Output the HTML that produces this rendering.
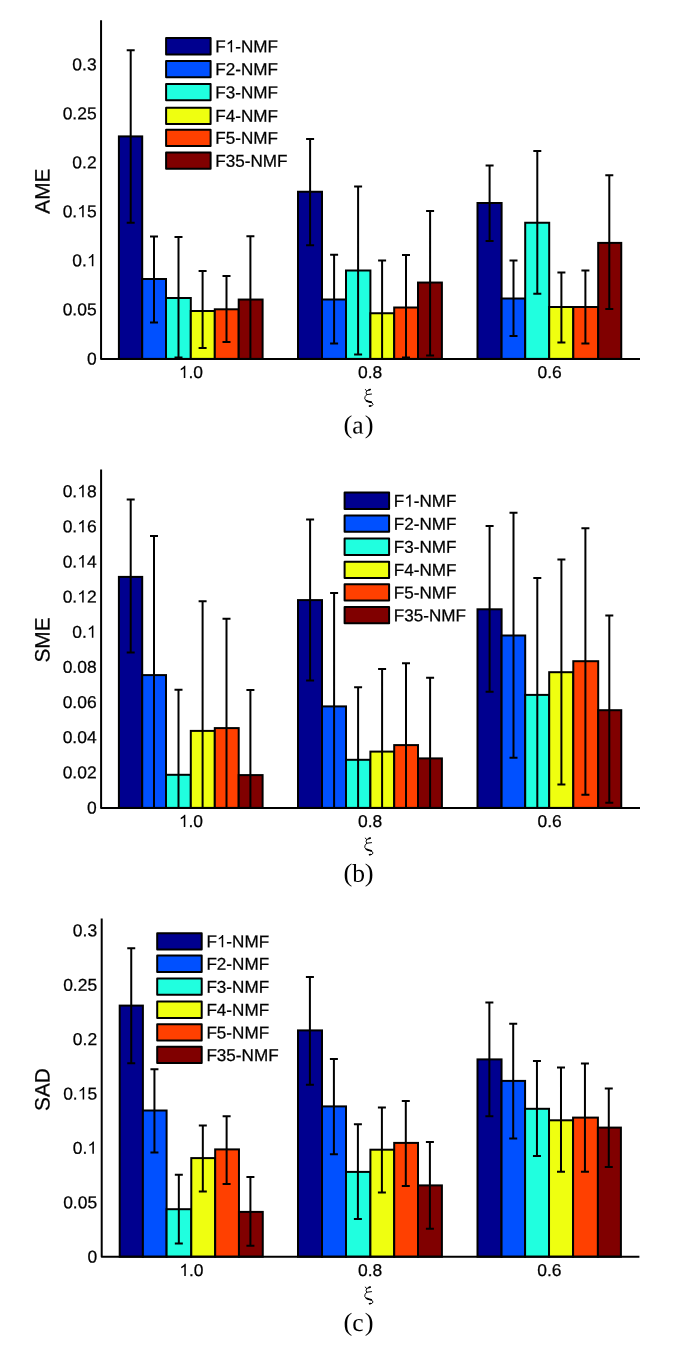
<!DOCTYPE html>
<html><head><meta charset="utf-8"><title>charts</title>
<style>html,body{margin:0;padding:0;background:#fff}body{width:685px;height:1350px;overflow:hidden}svg{display:block;will-change:transform;filter:opacity(1)}.t{font-family:"Liberation Sans",sans-serif;fill:#000;stroke:#000;stroke-width:0.25px}.s{font-family:"Liberation Serif",serif;fill:#000}</style>
</head><body>
<svg width="685" height="1350" viewBox="0 0 685 1350">
<rect x="0" y="0" width="685" height="1350" fill="#fff"/>
<g>
<rect x="118.9" y="136.4" width="23.3" height="222.5" fill="#00008F" stroke="#000" stroke-width="2"/>
<rect x="142.2" y="279" width="23.8" height="79.9" fill="#0050FF" stroke="#000" stroke-width="2"/>
<rect x="166" y="298" width="24.8" height="60.9" fill="#20FFDF" stroke="#000" stroke-width="2"/>
<rect x="190.8" y="311" width="24" height="47.9" fill="#EFFF10" stroke="#000" stroke-width="2"/>
<rect x="214.8" y="309.3" width="23.9" height="49.6" fill="#FF4000" stroke="#000" stroke-width="2"/>
<rect x="238.7" y="299.55" width="23.9" height="59.35" fill="#800000" stroke="#000" stroke-width="2"/>
<rect x="298" y="191.75" width="24" height="167.15" fill="#00008F" stroke="#000" stroke-width="2"/>
<rect x="322" y="299.5" width="24" height="59.4" fill="#0050FF" stroke="#000" stroke-width="2"/>
<rect x="346" y="270.5" width="24.4" height="88.4" fill="#20FFDF" stroke="#000" stroke-width="2"/>
<rect x="370.4" y="313.25" width="23.8" height="45.65" fill="#EFFF10" stroke="#000" stroke-width="2"/>
<rect x="394.2" y="307.5" width="23.8" height="51.4" fill="#FF4000" stroke="#000" stroke-width="2"/>
<rect x="418" y="282.55" width="23.9" height="76.35" fill="#800000" stroke="#000" stroke-width="2"/>
<rect x="477.5" y="203" width="24.1" height="155.9" fill="#00008F" stroke="#000" stroke-width="2"/>
<rect x="501.6" y="298.5" width="23.6" height="60.4" fill="#0050FF" stroke="#000" stroke-width="2"/>
<rect x="525.2" y="222.75" width="24" height="136.15" fill="#20FFDF" stroke="#000" stroke-width="2"/>
<rect x="549.2" y="307" width="24.1" height="51.9" fill="#EFFF10" stroke="#000" stroke-width="2"/>
<rect x="573.3" y="307" width="24.9" height="51.9" fill="#FF4000" stroke="#000" stroke-width="2"/>
<rect x="598.2" y="242.9" width="23.05" height="116" fill="#800000" stroke="#000" stroke-width="2"/>
<path d="M130.7 50.3V222.75M126.7 50.3H134.7M126.7 222.75H134.7M154 236.5V322.4M150 236.5H158M150 322.4H158M178.5 237V357.6M174.5 237H182.5M174.5 357.6H182.5M202.6 271V348M198.6 271H206.6M198.6 348H206.6M226.5 276V342M222.5 276H230.5M222.5 342H230.5M250.4 236.25V358.9M246.4 236.25H254.4M310.1 139V245.25M306.1 139H314.1M306.1 245.25H314.1M334.1 254.75V343.5M330.1 254.75H338.1M330.1 343.5H338.1M358.1 186.5V354.5M354.1 186.5H362.1M354.1 354.5H362.1M382.1 260.6V358.9M378.1 260.6H386.1M406 254.9V357.5M402 254.9H410M402 357.5H410M430.1 210.9V355.5M426.1 210.9H434.1M426.1 355.5H434.1M489.6 165.5V241M485.6 165.5H493.6M485.6 241H493.6M513.5 260.5V336M509.5 260.5H517.5M509.5 336H517.5M537.3 151V293.75M533.3 151H541.3M533.3 293.75H541.3M561.4 272.6V342.5M557.4 272.6H565.4M557.4 342.5H565.4M585.4 270.4V343.5M581.4 270.4H589.4M581.4 343.5H589.4M609.3 175.25V309M605.3 175.25H613.3M605.3 309H613.3" fill="none" stroke="#000" stroke-width="2"/>
<path d="M101.06 20.2V358.9H640" fill="none" stroke="#000" stroke-width="2" stroke-linejoin="round"/>
<g transform="translate(96.6 364.4) rotate(0.03) scale(1.02 1)"><text class="t" font-size="17.1" x="-9.51" y="0">0</text></g>
<g transform="translate(96.6 315.38) rotate(0.03) scale(1.02 1)"><text class="t" font-size="17.1" x="-33.28 -23.77 -19.02 -9.51" y="0">0.05</text></g>
<g transform="translate(96.6 266.36) rotate(0.03) scale(1.02 1)"><path class="t" d="M763 0H583V1147Q518 1085 412.5 1023Q307 961 223 930V1104Q374 1175 487 1276Q600 1377 647 1472H763Z" transform="translate(-9.51 0) scale(0.00835 -0.00835)" stroke-width="29.94"/><text class="t" font-size="17.1" x="-23.77 -14.26" y="0">0.</text></g>
<g transform="translate(96.6 217.34) rotate(0.03) scale(1.02 1)"><path class="t" d="M763 0H583V1147Q518 1085 412.5 1023Q307 961 223 930V1104Q374 1175 487 1276Q600 1377 647 1472H763Z" transform="translate(-19.02 0) scale(0.00835 -0.00835)" stroke-width="29.94"/><text class="t" font-size="17.1" x="-33.28 -23.77 -9.51" y="0">0.5</text></g>
<g transform="translate(96.6 168.32) rotate(0.03) scale(1.02 1)"><text class="t" font-size="17.1" x="-23.77 -14.26 -9.51" y="0">0.2</text></g>
<g transform="translate(96.6 119.3) rotate(0.03) scale(1.02 1)"><text class="t" font-size="17.1" x="-33.28 -23.77 -19.02 -9.51" y="0">0.25</text></g>
<g transform="translate(96.6 70.28) rotate(0.03) scale(1.02 1)"><text class="t" font-size="17.1" x="-23.77 -14.26 -9.51" y="0">0.3</text></g>
<g transform="translate(190.95 378) rotate(0.03) scale(1.02 1)"><path class="t" d="M763 0H583V1147Q518 1085 412.5 1023Q307 961 223 930V1104Q374 1175 487 1276Q600 1377 647 1472H763Z" transform="translate(-11.89 0) scale(0.00835 -0.00835)" stroke-width="29.94"/><text class="t" font-size="17.1" x="-2.38 2.38" y="0">.0</text></g>
<g transform="translate(370.15 378) rotate(0.03) scale(1.02 1)"><text class="t" font-size="17.1" x="-11.89 -2.38 2.38" y="0">0.8</text></g>
<g transform="translate(549.58 378) rotate(0.03) scale(1.02 1)"><text class="t" font-size="17.1" x="-11.89 -2.38 2.38" y="0">0.6</text></g>
<text class="t" transform="translate(49.5 191.1) rotate(-89.97)" font-size="20.8" text-anchor="middle">AME</text>
<g transform="translate(355 382) scale(0.0438)" fill="none" stroke="#000" stroke-linecap="round" stroke-linejoin="round"><path stroke-width="22" d="M238,172Q250,200 266,205Q300,188 345,172M266,205Q236,250 268,288L378,275M268,289Q214,332 222,382Q236,438 330,454Q410,468 412,512Q404,554 336,554"/><path stroke-width="38" d="M318,182L346,172M262,427Q300,450 372,460M332,550L350,546"/></g>
<text class="s" transform="translate(343.6 432.9) rotate(0.03) scale(1 0.97)" font-size="26.5" text-anchor="start">(</text>
<text class="s" transform="translate(352.3 433.4) rotate(0.03)" font-size="25.5" text-anchor="start">a</text>
<text class="s" transform="translate(373.5 432.9) rotate(0.03) scale(1 0.97)" font-size="26.5" text-anchor="end">)</text>
<rect x="166.1" y="38.1" width="44.5" height="16.3" fill="#00008F" stroke="#000" stroke-width="2" stroke-linejoin="round"/>
<g transform="translate(215.3 52.25) rotate(0.03) scale(1 1)"><path class="t" d="M763 0H583V1147Q518 1085 412.5 1023Q307 961 223 930V1104Q374 1175 487 1276Q600 1377 647 1472H763Z" transform="translate(10.45 0) scale(0.00835 -0.00835)" stroke-width="29.94"/><text class="t" font-size="17.1" x="0 19.96 25.65 38 52.24" y="0">F-NMF</text></g>
<rect x="166.1" y="60.9" width="44.5" height="16.3" fill="#0050FF" stroke="#000" stroke-width="2" stroke-linejoin="round"/>
<g transform="translate(215.3 75.05) rotate(0.03) scale(1 1)"><text class="t" font-size="17.1" x="0 10.45 19.96 25.65 38 52.24" y="0">F2-NMF</text></g>
<rect x="166.1" y="84" width="44.5" height="16.3" fill="#20FFDF" stroke="#000" stroke-width="2" stroke-linejoin="round"/>
<g transform="translate(215.3 98.15) rotate(0.03) scale(1 1)"><text class="t" font-size="17.1" x="0 10.45 19.96 25.65 38 52.24" y="0">F3-NMF</text></g>
<rect x="166.1" y="107.7" width="44.5" height="16.3" fill="#EFFF10" stroke="#000" stroke-width="2" stroke-linejoin="round"/>
<g transform="translate(215.3 121.85) rotate(0.03) scale(1 1)"><text class="t" font-size="17.1" x="0 10.45 19.96 25.65 38 52.24" y="0">F4-NMF</text></g>
<rect x="166.1" y="129.7" width="44.5" height="16.3" fill="#FF4000" stroke="#000" stroke-width="2" stroke-linejoin="round"/>
<g transform="translate(215.3 143.85) rotate(0.03) scale(1 1)"><text class="t" font-size="17.1" x="0 10.45 19.96 25.65 38 52.24" y="0">F5-NMF</text></g>
<rect x="166.1" y="152.5" width="44.5" height="16.3" fill="#800000" stroke="#000" stroke-width="2" stroke-linejoin="round"/>
<g transform="translate(215.3 166.65) rotate(0.03) scale(1 1)"><text class="t" font-size="17.1" x="0 10.45 19.96 29.47 35.16 47.51 61.75" y="0">F35-NMF</text></g>
</g>
<g>
<rect x="118.9" y="576.9" width="23.3" height="231" fill="#00008F" stroke="#000" stroke-width="2"/>
<rect x="142.2" y="675.1" width="23.8" height="132.8" fill="#0050FF" stroke="#000" stroke-width="2"/>
<rect x="166" y="774.8" width="24.8" height="33.1" fill="#20FFDF" stroke="#000" stroke-width="2"/>
<rect x="190.8" y="730.9" width="24" height="77" fill="#EFFF10" stroke="#000" stroke-width="2"/>
<rect x="214.8" y="728.1" width="23.9" height="79.8" fill="#FF4000" stroke="#000" stroke-width="2"/>
<rect x="238.7" y="775.1" width="23.9" height="32.8" fill="#800000" stroke="#000" stroke-width="2"/>
<rect x="298" y="600.1" width="24" height="207.8" fill="#00008F" stroke="#000" stroke-width="2"/>
<rect x="322" y="706.4" width="24" height="101.5" fill="#0050FF" stroke="#000" stroke-width="2"/>
<rect x="346" y="759.8" width="24.4" height="48.1" fill="#20FFDF" stroke="#000" stroke-width="2"/>
<rect x="370.4" y="751.6" width="23.8" height="56.3" fill="#EFFF10" stroke="#000" stroke-width="2"/>
<rect x="394.2" y="745.1" width="23.8" height="62.8" fill="#FF4000" stroke="#000" stroke-width="2"/>
<rect x="418" y="758.4" width="23.9" height="49.5" fill="#800000" stroke="#000" stroke-width="2"/>
<rect x="477.5" y="609.3" width="24.1" height="198.6" fill="#00008F" stroke="#000" stroke-width="2"/>
<rect x="501.6" y="635.5" width="23.6" height="172.4" fill="#0050FF" stroke="#000" stroke-width="2"/>
<rect x="525.2" y="694.9" width="24" height="113" fill="#20FFDF" stroke="#000" stroke-width="2"/>
<rect x="549.2" y="672.2" width="24.1" height="135.7" fill="#EFFF10" stroke="#000" stroke-width="2"/>
<rect x="573.3" y="661.2" width="24.9" height="146.7" fill="#FF4000" stroke="#000" stroke-width="2"/>
<rect x="598.2" y="710.2" width="23.05" height="97.7" fill="#800000" stroke="#000" stroke-width="2"/>
<path d="M130.7 499.5V652.6M126.7 499.5H134.7M126.7 652.6H134.7M154 535.9V807.9M150 535.9H158M178.5 689.7V807.9M174.5 689.7H182.5M202.6 601.3V807.9M198.6 601.3H206.6M226.5 618.8V807.9M222.5 618.8H230.5M250.4 690V807.9M246.4 690H254.4M310.1 519.4V680.4M306.1 519.4H314.1M306.1 680.4H314.1M334.1 593V807.9M330.1 593H338.1M358.1 687.2V807.9M354.1 687.2H362.1M382.1 669V807.9M378.1 669H386.1M406 663.2V807.9M402 663.2H410M430.1 677.7V807.9M426.1 677.7H434.1M489.6 525.9V691.7M485.6 525.9H493.6M485.6 691.7H493.6M513.5 512.7V757.8M509.5 512.7H517.5M509.5 757.8H517.5M537.3 578.1V807.9M533.3 578.1H541.3M561.4 559.4V784.5M557.4 559.4H565.4M557.4 784.5H565.4M585.4 528.2V794.8M581.4 528.2H589.4M581.4 794.8H589.4M609.3 615.5V802.7M605.3 615.5H613.3M605.3 802.7H613.3" fill="none" stroke="#000" stroke-width="2"/>
<path d="M101.1 469.5V807.9H640" fill="none" stroke="#000" stroke-width="2" stroke-linejoin="round"/>
<g transform="translate(96.6 813.4) rotate(0.03) scale(1.02 1)"><text class="t" font-size="17.1" x="-9.51" y="0">0</text></g>
<g transform="translate(96.6 778.26) rotate(0.03) scale(1.02 1)"><text class="t" font-size="17.1" x="-33.28 -23.77 -19.02 -9.51" y="0">0.02</text></g>
<g transform="translate(96.6 743.12) rotate(0.03) scale(1.02 1)"><text class="t" font-size="17.1" x="-33.28 -23.77 -19.02 -9.51" y="0">0.04</text></g>
<g transform="translate(96.6 707.98) rotate(0.03) scale(1.02 1)"><text class="t" font-size="17.1" x="-33.28 -23.77 -19.02 -9.51" y="0">0.06</text></g>
<g transform="translate(96.6 672.84) rotate(0.03) scale(1.02 1)"><text class="t" font-size="17.1" x="-33.28 -23.77 -19.02 -9.51" y="0">0.08</text></g>
<g transform="translate(96.6 637.7) rotate(0.03) scale(1.02 1)"><path class="t" d="M763 0H583V1147Q518 1085 412.5 1023Q307 961 223 930V1104Q374 1175 487 1276Q600 1377 647 1472H763Z" transform="translate(-9.51 0) scale(0.00835 -0.00835)" stroke-width="29.94"/><text class="t" font-size="17.1" x="-23.77 -14.26" y="0">0.</text></g>
<g transform="translate(96.6 602.56) rotate(0.03) scale(1.02 1)"><path class="t" d="M763 0H583V1147Q518 1085 412.5 1023Q307 961 223 930V1104Q374 1175 487 1276Q600 1377 647 1472H763Z" transform="translate(-19.02 0) scale(0.00835 -0.00835)" stroke-width="29.94"/><text class="t" font-size="17.1" x="-33.28 -23.77 -9.51" y="0">0.2</text></g>
<g transform="translate(96.6 567.42) rotate(0.03) scale(1.02 1)"><path class="t" d="M763 0H583V1147Q518 1085 412.5 1023Q307 961 223 930V1104Q374 1175 487 1276Q600 1377 647 1472H763Z" transform="translate(-19.02 0) scale(0.00835 -0.00835)" stroke-width="29.94"/><text class="t" font-size="17.1" x="-33.28 -23.77 -9.51" y="0">0.4</text></g>
<g transform="translate(96.6 532.28) rotate(0.03) scale(1.02 1)"><path class="t" d="M763 0H583V1147Q518 1085 412.5 1023Q307 961 223 930V1104Q374 1175 487 1276Q600 1377 647 1472H763Z" transform="translate(-19.02 0) scale(0.00835 -0.00835)" stroke-width="29.94"/><text class="t" font-size="17.1" x="-33.28 -23.77 -9.51" y="0">0.6</text></g>
<g transform="translate(96.6 497.14) rotate(0.03) scale(1.02 1)"><path class="t" d="M763 0H583V1147Q518 1085 412.5 1023Q307 961 223 930V1104Q374 1175 487 1276Q600 1377 647 1472H763Z" transform="translate(-19.02 0) scale(0.00835 -0.00835)" stroke-width="29.94"/><text class="t" font-size="17.1" x="-33.28 -23.77 -9.51" y="0">0.8</text></g>
<g transform="translate(190.95 827) rotate(0.03) scale(1.02 1)"><path class="t" d="M763 0H583V1147Q518 1085 412.5 1023Q307 961 223 930V1104Q374 1175 487 1276Q600 1377 647 1472H763Z" transform="translate(-11.89 0) scale(0.00835 -0.00835)" stroke-width="29.94"/><text class="t" font-size="17.1" x="-2.38 2.38" y="0">.0</text></g>
<g transform="translate(370.15 827) rotate(0.03) scale(1.02 1)"><text class="t" font-size="17.1" x="-11.89 -2.38 2.38" y="0">0.8</text></g>
<g transform="translate(549.58 827) rotate(0.03) scale(1.02 1)"><text class="t" font-size="17.1" x="-11.89 -2.38 2.38" y="0">0.6</text></g>
<text class="t" transform="translate(49.5 640) rotate(-89.97)" font-size="20.8" text-anchor="middle">SME</text>
<g transform="translate(355 830.6) scale(0.0438)" fill="none" stroke="#000" stroke-linecap="round" stroke-linejoin="round"><path stroke-width="22" d="M238,172Q250,200 266,205Q300,188 345,172M266,205Q236,250 268,288L378,275M268,289Q214,332 222,382Q236,438 330,454Q410,468 412,512Q404,554 336,554"/><path stroke-width="38" d="M318,182L346,172M262,427Q300,450 372,460M332,550L350,546"/></g>
<text class="s" transform="translate(343.6 881.2) rotate(0.03) scale(1 0.97)" font-size="26.5" text-anchor="start">(</text>
<text class="s" transform="translate(352.3 881.7) rotate(0.03)" font-size="25.5" text-anchor="start">b</text>
<text class="s" transform="translate(373.5 881.2) rotate(0.03) scale(1 0.97)" font-size="26.5" text-anchor="end">)</text>
<rect x="344.6" y="492.6" width="44.5" height="16.3" fill="#00008F" stroke="#000" stroke-width="2" stroke-linejoin="round"/>
<g transform="translate(393.8 506.75) rotate(0.03) scale(1 1)"><path class="t" d="M763 0H583V1147Q518 1085 412.5 1023Q307 961 223 930V1104Q374 1175 487 1276Q600 1377 647 1472H763Z" transform="translate(10.45 0) scale(0.00835 -0.00835)" stroke-width="29.94"/><text class="t" font-size="17.1" x="0 19.96 25.65 38 52.24" y="0">F-NMF</text></g>
<rect x="344.6" y="515.5" width="44.5" height="16.3" fill="#0050FF" stroke="#000" stroke-width="2" stroke-linejoin="round"/>
<g transform="translate(393.8 529.65) rotate(0.03) scale(1 1)"><text class="t" font-size="17.1" x="0 10.45 19.96 25.65 38 52.24" y="0">F2-NMF</text></g>
<rect x="344.6" y="538.6" width="44.5" height="16.3" fill="#20FFDF" stroke="#000" stroke-width="2" stroke-linejoin="round"/>
<g transform="translate(393.8 552.75) rotate(0.03) scale(1 1)"><text class="t" font-size="17.1" x="0 10.45 19.96 25.65 38 52.24" y="0">F3-NMF</text></g>
<rect x="344.6" y="561.7" width="44.5" height="16.3" fill="#EFFF10" stroke="#000" stroke-width="2" stroke-linejoin="round"/>
<g transform="translate(393.8 575.85) rotate(0.03) scale(1 1)"><text class="t" font-size="17.1" x="0 10.45 19.96 25.65 38 52.24" y="0">F4-NMF</text></g>
<rect x="344.6" y="584.3" width="44.5" height="16.3" fill="#FF4000" stroke="#000" stroke-width="2" stroke-linejoin="round"/>
<g transform="translate(393.8 598.45) rotate(0.03) scale(1 1)"><text class="t" font-size="17.1" x="0 10.45 19.96 25.65 38 52.24" y="0">F5-NMF</text></g>
<rect x="344.6" y="607" width="44.5" height="16.3" fill="#800000" stroke="#000" stroke-width="2" stroke-linejoin="round"/>
<g transform="translate(393.8 621.15) rotate(0.03) scale(1 1)"><text class="t" font-size="17.1" x="0 10.45 19.96 29.47 35.16 47.51 61.75" y="0">F35-NMF</text></g>
</g>
<g>
<rect x="119.7" y="1005.6" width="23.19" height="251.1" fill="#00008F" stroke="#000" stroke-width="2"/>
<rect x="142.89" y="1110.5" width="23.7" height="146.2" fill="#0050FF" stroke="#000" stroke-width="2"/>
<rect x="166.59" y="1209.2" width="24.69" height="47.5" fill="#20FFDF" stroke="#000" stroke-width="2"/>
<rect x="191.28" y="1158.1" width="23.89" height="98.6" fill="#EFFF10" stroke="#000" stroke-width="2"/>
<rect x="215.17" y="1149.4" width="23.79" height="107.3" fill="#FF4000" stroke="#000" stroke-width="2"/>
<rect x="238.96" y="1211.9" width="23.8" height="44.8" fill="#800000" stroke="#000" stroke-width="2"/>
<rect x="298" y="1030.4" width="24" height="226.3" fill="#00008F" stroke="#000" stroke-width="2"/>
<rect x="322" y="1106.4" width="24" height="150.3" fill="#0050FF" stroke="#000" stroke-width="2"/>
<rect x="346" y="1171.9" width="24.4" height="84.8" fill="#20FFDF" stroke="#000" stroke-width="2"/>
<rect x="370.4" y="1149.7" width="23.8" height="107" fill="#EFFF10" stroke="#000" stroke-width="2"/>
<rect x="394.2" y="1142.9" width="23.8" height="113.8" fill="#FF4000" stroke="#000" stroke-width="2"/>
<rect x="418" y="1185.4" width="23.9" height="71.3" fill="#800000" stroke="#000" stroke-width="2"/>
<rect x="477.5" y="1059.4" width="24.04" height="197.3" fill="#00008F" stroke="#000" stroke-width="2"/>
<rect x="501.54" y="1080.9" width="23.54" height="175.8" fill="#0050FF" stroke="#000" stroke-width="2"/>
<rect x="525.08" y="1108.8" width="23.94" height="147.9" fill="#20FFDF" stroke="#000" stroke-width="2"/>
<rect x="549.02" y="1120.3" width="24.05" height="136.4" fill="#EFFF10" stroke="#000" stroke-width="2"/>
<rect x="573.07" y="1117.6" width="24.84" height="139.1" fill="#FF4000" stroke="#000" stroke-width="2"/>
<rect x="597.91" y="1127.6" width="22.99" height="129.1" fill="#800000" stroke="#000" stroke-width="2"/>
<path d="M131.24 948.2V1063.3M127.24 948.2H135.24M127.24 1063.3H135.24M154.44 1069.3V1152.5M150.44 1069.3H158.44M150.44 1152.5H158.44M178.83 1174.8V1243.6M174.83 1174.8H182.83M174.83 1243.6H182.83M202.82 1125.4V1191.6M198.82 1125.4H206.82M198.82 1191.6H206.82M226.62 1116.2V1183.9M222.62 1116.2H230.62M222.62 1183.9H230.62M250.41 1177.1V1245.8M246.41 1177.1H254.41M246.41 1245.8H254.41M309.9 977V1084.8M305.9 977H313.9M305.9 1084.8H313.9M333.9 1059.1V1154.2M329.9 1059.1H337.9M329.9 1154.2H337.9M357.9 1124.2V1219.1M353.9 1124.2H361.9M353.9 1219.1H361.9M381.9 1107.5V1192.6M377.9 1107.5H385.9M377.9 1192.6H385.9M405.8 1101V1185.9M401.8 1101H409.8M401.8 1185.9H409.8M429.9 1141.9V1228.8M425.9 1141.9H433.9M425.9 1228.8H433.9M489.37 1002.5V1116.3M485.37 1002.5H493.37M485.37 1116.3H493.37M513.21 1023.7V1138.6M509.21 1023.7H517.21M509.21 1138.6H517.21M536.95 1060.9V1156M532.95 1060.9H540.95M532.95 1156H540.95M560.99 1067.6V1171.7M556.99 1067.6H564.99M556.99 1171.7H564.99M584.94 1063.4V1171.7M580.94 1063.4H588.94M580.94 1171.7H588.94M608.78 1088.6V1167.1M604.78 1088.6H612.78M604.78 1167.1H612.78" fill="none" stroke="#000" stroke-width="2"/>
<path d="M101.7 918.4V1256.7H639.4" fill="none" stroke="#000" stroke-width="2" stroke-linejoin="round"/>
<g transform="translate(97.1 1262.56) rotate(0.03) scale(1.02 1)"><text class="t" font-size="17.1" x="-9.51" y="0">0</text></g>
<g transform="translate(97.1 1208.18) rotate(0.03) scale(1.02 1)"><text class="t" font-size="17.1" x="-33.28 -23.77 -19.02 -9.51" y="0">0.05</text></g>
<g transform="translate(97.1 1153.8) rotate(0.03) scale(1.02 1)"><path class="t" d="M763 0H583V1147Q518 1085 412.5 1023Q307 961 223 930V1104Q374 1175 487 1276Q600 1377 647 1472H763Z" transform="translate(-9.51 0) scale(0.00835 -0.00835)" stroke-width="29.94"/><text class="t" font-size="17.1" x="-23.77 -14.26" y="0">0.</text></g>
<g transform="translate(97.1 1099.42) rotate(0.03) scale(1.02 1)"><path class="t" d="M763 0H583V1147Q518 1085 412.5 1023Q307 961 223 930V1104Q374 1175 487 1276Q600 1377 647 1472H763Z" transform="translate(-19.02 0) scale(0.00835 -0.00835)" stroke-width="29.94"/><text class="t" font-size="17.1" x="-33.28 -23.77 -9.51" y="0">0.5</text></g>
<g transform="translate(97.1 1045.04) rotate(0.03) scale(1.02 1)"><text class="t" font-size="17.1" x="-23.77 -14.26 -9.51" y="0">0.2</text></g>
<g transform="translate(97.1 990.66) rotate(0.03) scale(1.02 1)"><text class="t" font-size="17.1" x="-33.28 -23.77 -19.02 -9.51" y="0">0.25</text></g>
<g transform="translate(97.1 936.28) rotate(0.03) scale(1.02 1)"><text class="t" font-size="17.1" x="-23.77 -14.26 -9.51" y="0">0.3</text></g>
<g transform="translate(191.43 1276) rotate(0.03) scale(1.02 1)"><path class="t" d="M763 0H583V1147Q518 1085 412.5 1023Q307 961 223 930V1104Q374 1175 487 1276Q600 1377 647 1472H763Z" transform="translate(-11.89 0) scale(0.00835 -0.00835)" stroke-width="29.94"/><text class="t" font-size="17.1" x="-2.38 2.38" y="0">.0</text></g>
<g transform="translate(370.15 1276) rotate(0.03) scale(1.02 1)"><text class="t" font-size="17.1" x="-11.89 -2.38 2.38" y="0">0.8</text></g>
<g transform="translate(549.4 1276) rotate(0.03) scale(1.02 1)"><text class="t" font-size="17.1" x="-11.89 -2.38 2.38" y="0">0.6</text></g>
<text class="t" transform="translate(49.5 1089.5) rotate(-89.97)" font-size="20.8" text-anchor="middle">SAD</text>
<g transform="translate(355 1279.6) scale(0.0438)" fill="none" stroke="#000" stroke-linecap="round" stroke-linejoin="round"><path stroke-width="22" d="M238,172Q250,200 266,205Q300,188 345,172M266,205Q236,250 268,288L378,275M268,289Q214,332 222,382Q236,438 330,454Q410,468 412,512Q404,554 336,554"/><path stroke-width="38" d="M318,182L346,172M262,427Q300,450 372,460M332,550L350,546"/></g>
<text class="s" transform="translate(343.6 1330.5) rotate(0.03) scale(1 0.97)" font-size="26.5" text-anchor="start">(</text>
<text class="s" transform="translate(352.3 1331) rotate(0.03)" font-size="25.5" text-anchor="start">c</text>
<text class="s" transform="translate(373.5 1330.5) rotate(0.03) scale(1 0.97)" font-size="26.5" text-anchor="end">)</text>
<rect x="157.2" y="933.2" width="44.5" height="16.3" fill="#00008F" stroke="#000" stroke-width="2" stroke-linejoin="round"/>
<g transform="translate(206.4 947.35) rotate(0.03) scale(1 1)"><path class="t" d="M763 0H583V1147Q518 1085 412.5 1023Q307 961 223 930V1104Q374 1175 487 1276Q600 1377 647 1472H763Z" transform="translate(10.45 0) scale(0.00835 -0.00835)" stroke-width="29.94"/><text class="t" font-size="17.1" x="0 19.96 25.65 38 52.24" y="0">F-NMF</text></g>
<rect x="157.2" y="955.6" width="44.5" height="16.3" fill="#0050FF" stroke="#000" stroke-width="2" stroke-linejoin="round"/>
<g transform="translate(206.4 969.75) rotate(0.03) scale(1 1)"><text class="t" font-size="17.1" x="0 10.45 19.96 25.65 38 52.24" y="0">F2-NMF</text></g>
<rect x="157.2" y="978.5" width="44.5" height="16.3" fill="#20FFDF" stroke="#000" stroke-width="2" stroke-linejoin="round"/>
<g transform="translate(206.4 992.65) rotate(0.03) scale(1 1)"><text class="t" font-size="17.1" x="0 10.45 19.96 25.65 38 52.24" y="0">F3-NMF</text></g>
<rect x="157.2" y="1001.6" width="44.5" height="16.3" fill="#EFFF10" stroke="#000" stroke-width="2" stroke-linejoin="round"/>
<g transform="translate(206.4 1015.75) rotate(0.03) scale(1 1)"><text class="t" font-size="17.1" x="0 10.45 19.96 25.65 38 52.24" y="0">F4-NMF</text></g>
<rect x="157.2" y="1024.3" width="44.5" height="16.3" fill="#FF4000" stroke="#000" stroke-width="2" stroke-linejoin="round"/>
<g transform="translate(206.4 1038.45) rotate(0.03) scale(1 1)"><text class="t" font-size="17.1" x="0 10.45 19.96 25.65 38 52.24" y="0">F5-NMF</text></g>
<rect x="157.2" y="1046.8" width="44.5" height="16.3" fill="#800000" stroke="#000" stroke-width="2" stroke-linejoin="round"/>
<g transform="translate(206.4 1060.95) rotate(0.03) scale(1 1)"><text class="t" font-size="17.1" x="0 10.45 19.96 29.47 35.16 47.51 61.75" y="0">F35-NMF</text></g>
</g>
</svg>
</body></html>
